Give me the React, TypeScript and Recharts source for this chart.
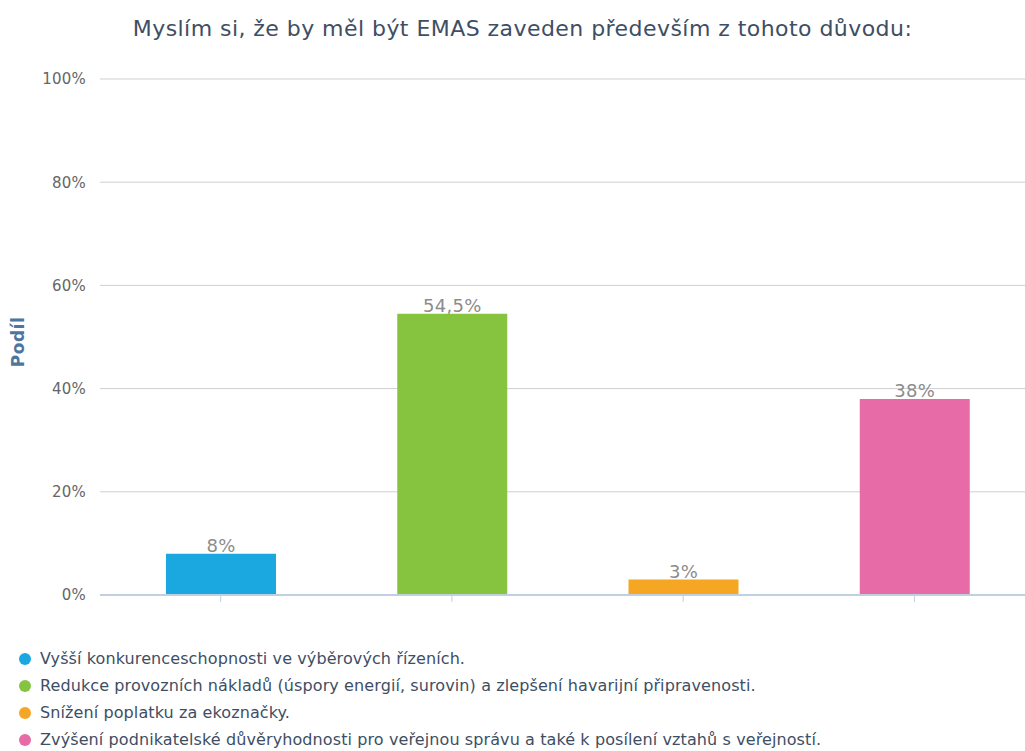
import React from 'react';
import { BarChart, Bar, XAxis, YAxis, CartesianGrid, LabelList, Cell } from 'recharts';

// Reasons (legend texts), one bar per reason
const reasons = [
  'Vyšší konkurenceschopnosti ve výběrových řízeních.',
  'Redukce provozních nákladů (úspory energií, surovin) a zlepšení havarijní připravenosti.',
  'Snížení poplatku za ekoznačky.',
  'Zvýšení podnikatelské důvěryhodnosti pro veřejnou správu a také k posílení vztahů s veřejností.',
];
const shares = [8, 54.5, 3, 38];
const colors = ['#1ba8e0', '#86c440', '#f5a623', '#e66ba6'];
const yTicks = [0, 20, 40, 60, 80, 100];

const title = 'Myslím si, že by měl být EMAS zaveden především z tohoto důvodu:';
const yTitle = 'Podíl';

const FONT = '"DejaVu Sans", sans-serif';

const data = reasons.map((name, i) => ({ name, value: shares[i] }));

const fmt = (v: any) => `${String(v).replace('.', ',')}%`;

const App: React.FC = () => {
  return (
    <div
      style={{
        position: 'absolute',
        left: 0,
        top: 0,
        width: 1025,
        height: 751,
        overflow: 'hidden',
        background: '#fff',
        fontFamily: FONT,
      }}
    >
      {/* Title */}
      <div
        style={{
          position: 'absolute',
          top: 16,
          left: 0,
          width: 1045,
          textAlign: 'center',
          fontSize: 22,
          letterSpacing: 0.45,
          color: '#3e4e64',
          whiteSpace: 'nowrap',
        }}
      >
        {title}
      </div>

      <div style={{ position: 'absolute', left: 0, top: 0 }}>
        <BarChart
          width={1030}
          height={611}
          data={data}
          margin={{ top: 79, right: 0, left: 0, bottom: 6 }}
        >
          <CartesianGrid vertical={false} stroke="#cfcfcf" />
          <XAxis
            dataKey="name"
            tickFormatter={() => ''}
            height={10}
            padding={{ left: 5, right: 0 }}
            stroke="#c0d0e0"
            tickSize={7}
            tickLine={{ stroke: '#c0d0e0' }}
            axisLine={{ stroke: '#c0d0e0', strokeWidth: 2 }}
          />
          <YAxis
            domain={[0, 100]}
            ticks={yTicks}
            tickFormatter={(v) => `${v}%`}
            axisLine={false}
            tickLine={false}
            width={100}
            tickMargin={8}
            tick={{ fontSize: 15, fill: '#666', fontFamily: FONT, letterSpacing: 0.2 }}
            label={{
              value: yTitle,
              angle: -90,
              position: 'insideLeft',
              offset: 18,
              dy: 5,
              style: {
                fontSize: 17,
                fontWeight: 'bold',
                fill: '#4d759e',
                fontFamily: FONT,
                textAnchor: 'middle',
                letterSpacing: 0.5,
              },
            }}
          />
          <Bar dataKey="value" barSize={110} isAnimationActive={false}>
            {data.map((d, i) => (
              <Cell key={`cell-${i}`} fill={colors[i]} />
            ))}
            <LabelList
              dataKey="value"
              position="top"
              offset={2}
              formatter={fmt}
              style={{ fontSize: 18, fill: '#8c8c8c', fontFamily: FONT, letterSpacing: 0.3 }}
            />
          </Bar>
        </BarChart>
      </div>

      {/* Legend */}
      <div style={{ position: 'absolute', left: 19, top: 645 }}>
        {reasons.map((r, i) => (
          <div
            key={i}
            style={{
              display: 'flex',
              alignItems: 'center',
              height: 27,
              fontSize: 16,
              letterSpacing: 0.1,
              color: '#3e4e64',
              whiteSpace: 'nowrap',
            }}
          >
            <span
              style={{
                display: 'inline-block',
                width: 12,
                height: 12,
                borderRadius: 6,
                background: colors[i],
                marginRight: 9,
              }}
            />
            {r}
          </div>
        ))}
      </div>
    </div>
  );
};

export default App;
